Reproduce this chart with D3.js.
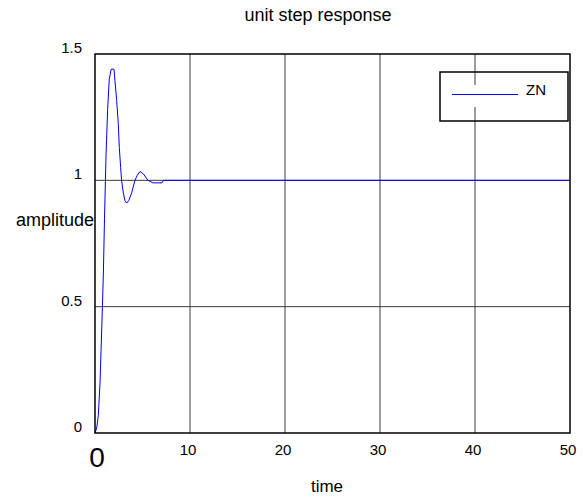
<!DOCTYPE html>
<html>
<head>
    <title>unit step response</title>
    <script src="https://cdnjs.cloudflare.com/ajax/libs/d3/7.8.5/d3.min.js"></script>
    <style>
        body {
            margin: 0;
            background: white;
            font-family: "Liberation Sans", Arial, sans-serif;
        }
        .tick-label {
            font-size: 15px;
            fill: #000;
        }
        .axis-title {
            font-size: 18px;
            fill: #000;
        }
        .grid-line {
            stroke: #3a3a3a;
            stroke-width: 1;
        }
    </style>
</head>
<body>
    <div id="chart"></div>
    <script>
        // step response (ZN tuned loop)
        const time = [0, 0.18, 0.35, 0.53, 0.7, 0.88, 1.0, 1.16, 1.33, 1.5, 1.7, 2.0, 2.1, 2.28, 2.45, 2.56, 2.7, 2.8, 2.98, 3.15, 3.34, 3.55, 3.86, 4.2, 4.45, 4.74, 5.1, 5.58, 6.1, 7.05, 7.2, 50];
        const amplitude = [0, 0.02, 0.07, 0.2, 0.4, 0.63, 0.85, 1.1, 1.28, 1.4, 1.44, 1.44, 1.395, 1.316, 1.225, 1.13, 1.05, 1.0, 0.95, 0.92, 0.91, 0.92, 0.95, 1.0, 1.02, 1.035, 1.025, 1.0, 0.99, 0.99, 1.0, 1.0];
        const xTicks = [10, 20, 30, 40, 50];
        const yTicks = [0, 0.5, 1, 1.5];
        const seriesName = "ZN";

        const margin = { top: 54, right: 13, bottom: 66, left: 95 };
        const width = 583 - margin.left - margin.right;
        const height = 499 - margin.top - margin.bottom;

        const svg = d3.select("#chart")
            .append("svg")
            .attr("width", 583)
            .attr("height", 499);

        const g = svg.append("g")
            .attr("transform", `translate(${margin.left},${margin.top})`);

        const x = d3.scaleLinear().domain([0, 50]).range([0, width]);
        const y = d3.scaleLinear().domain([0, 1.5]).range([height, 0]);

        // grid
        g.selectAll(".vgrid")
            .data(xTicks.filter(d => d > 0 && d < 50))
            .enter().append("line")
            .attr("class", "grid-line")
            .attr("x1", d => x(d)).attr("x2", d => x(d))
            .attr("y1", 0).attr("y2", height);

        g.selectAll(".hgrid")
            .data(yTicks.filter(d => d > 0 && d < 1.5))
            .enter().append("line")
            .attr("class", "grid-line")
            .attr("x1", 0).attr("x2", width)
            .attr("y1", d => y(d)).attr("y2", d => y(d));

        // response curve
        const line = d3.line()
            .x((d, i) => x(time[i]))
            .y(d => y(d));

        g.append("path")
            .datum(amplitude)
            .attr("fill", "none")
            .attr("stroke", "#0000ff")
            .attr("stroke-width", 1)
            .attr("d", line);

        // frame
        g.append("rect")
            .attr("width", width)
            .attr("height", height)
            .attr("fill", "none")
            .attr("stroke", "#000")
            .attr("stroke-width", 1.5);

        // tick labels
        g.selectAll(".xlab")
            .data(xTicks)
            .enter().append("text")
            .attr("class", "tick-label")
            .attr("x", d => x(d) - 2)
            .attr("y", height + 22)
            .attr("text-anchor", "middle")
            .text(d => d);

        g.append("text")
            .attr("x", x(0) + 2)
            .attr("y", height + 34)
            .attr("text-anchor", "middle")
            .style("font-size", "28px")
            .text("0");

        g.selectAll(".ylab")
            .data(yTicks)
            .enter().append("text")
            .attr("class", "tick-label")
            .attr("x", -13)
            .attr("y", d => y(d) - 1)
            .attr("text-anchor", "end")
            .text(d => d);

        // titles
        svg.append("text")
            .attr("class", "axis-title")
            .attr("x", 318)
            .attr("y", 21)
            .attr("text-anchor", "middle")
            .text("unit step response");

        svg.append("text")
            .attr("class", "axis-title")
            .attr("x", 327)
            .attr("y", 492)
            .attr("text-anchor", "middle")
            .style("font-size", "17px")
            .text("time");

        svg.append("text")
            .attr("class", "axis-title")
            .attr("x", 94)
            .attr("y", 226)
            .attr("text-anchor", "end")
            .text("amplitude");

        // legend
        const lx = 440, ly = 72, lw = 128, lh = 49;
        const legend = svg.append("g");
        legend.append("rect")
            .attr("x", lx).attr("y", ly + 13)
            .attr("width", lw).attr("height", 22)
            .attr("fill", "white");
        legend.append("rect")
            .attr("x", lx).attr("y", ly)
            .attr("width", lw).attr("height", lh)
            .attr("fill", "none")
            .attr("stroke", "#000")
            .attr("stroke-width", 1.5);
        legend.append("line")
            .attr("x1", lx + 12).attr("x2", lx + 78)
            .attr("y1", ly + 22.5).attr("y2", ly + 22.5)
            .attr("stroke", "#0000ff");
        legend.append("text")
            .attr("class", "tick-label")
            .attr("x", lx + 86)
            .attr("y", ly + 23)
            .text(seriesName);
    </script>
</body>
</html>
